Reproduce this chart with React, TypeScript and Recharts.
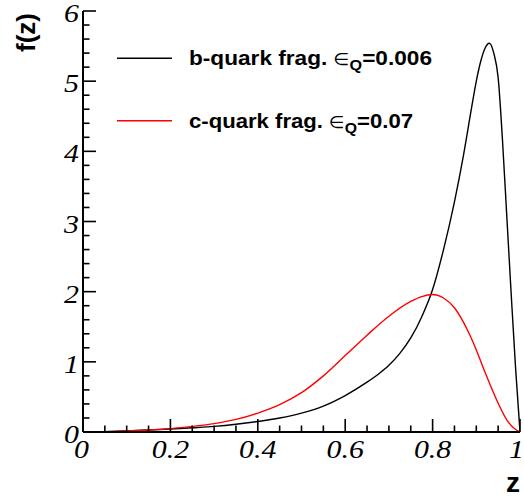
import React from 'react';
import { LineChart, Line, XAxis, YAxis, Legend } from 'recharts';

// b-quark fragmentation (black), epsilon_Q = 0.006
const bZ = [0, 0.05, 0.1, 0.15, 0.2, 0.25, 0.3, 0.35, 0.4, 0.45, 0.5, 0.55, 0.6, 0.65, 0.675, 0.7, 0.725, 0.75, 0.775, 0.8, 0.825, 0.85, 0.87, 0.89, 0.9, 0.91, 0.92, 0.93, 0.94, 0.95, 0.96, 0.97, 0.98, 0.99, 1.0];
const bF = [0, 0.005, 0.015, 0.028, 0.042, 0.06, 0.08, 0.11, 0.15, 0.2, 0.27, 0.37, 0.52, 0.71, 0.82, 0.95, 1.12, 1.34, 1.64, 2.03, 2.6, 3.28, 3.92, 4.65, 5.0, 5.28, 5.47, 5.54, 5.4, 5.05, 4.15, 3.05, 1.95, 0.9, 0];

// c-quark fragmentation (red), epsilon_Q = 0.07
const rZ = [0, 0.05, 0.1, 0.15, 0.2, 0.25, 0.3, 0.35, 0.4, 0.45, 0.5, 0.55, 0.6, 0.65, 0.7, 0.75, 0.775, 0.8, 0.825, 0.85, 0.88, 0.9, 0.92, 0.95, 0.97, 0.985, 1.0];
const rF = [0, 0.004, 0.014, 0.028, 0.048, 0.08, 0.12, 0.18, 0.27, 0.39, 0.56, 0.8, 1.09, 1.38, 1.65, 1.86, 1.93, 1.96, 1.91, 1.77, 1.45, 1.17, 0.85, 0.41, 0.17, 0.06, 0];

const xTicks = [0, 0.05, 0.1, 0.15, 0.2, 0.25, 0.3, 0.35, 0.4, 0.45, 0.5, 0.55, 0.6, 0.65, 0.7, 0.75, 0.8, 0.85, 0.9, 0.95, 1];
const xMajor = [0, 0.2, 0.4, 0.6, 0.8, 1];
const xTickLabels = ['0', '0.2', '0.4', '0.6', '0.8', '1'];

const yTicks = [0, 0.2, 0.4, 0.6, 0.8, 1, 1.2, 1.4, 1.6, 1.8, 2, 2.2, 2.4, 2.6, 2.8, 3, 3.2, 3.4, 3.6, 3.8, 4, 4.2, 4.4, 4.6, 4.8, 5, 5.2, 5.4, 5.6, 5.8, 6];
const yMajor = [0, 1, 2, 3, 4, 5, 6];
const yTickLabels = ['0', '1', '2', '3', '4', '5', '6'];

const seriesNames = ['b-quark frag.', 'c-quark frag.'];
const seriesEps = ['0.006', '0.07'];
const seriesColors = ['#000000', '#ff0000'];

const xTitle = 'z';
const yTitle = 'f(z)';

const bData = bZ.map((z, i) => ({ z, f: bF[i] }));
const rData = rZ.map((z, i) => ({ z, f: rF[i] }));

const majorIndex = (v: number, majors: number[]) => majors.findIndex((m) => Math.abs(m - v) < 1e-6);

const SERIF = "'Liberation Serif', 'Times New Roman', serif";
const SANS = "'Liberation Sans', Arial, Helvetica, sans-serif";
const TICK_W = 1.6;
const LABEL_SIZE = 26;
const LABEL_SX = 1.15;

const TickText = ({ x, y, anchor, children }: any) => (
  <text
    x={0}
    y={0}
    transform={`translate(${x} ${y}) scale(${LABEL_SX} 1)`}
    textAnchor={anchor}
    fontFamily={SERIF}
    fontStyle="italic"
    fontSize={LABEL_SIZE}
    fill="#000"
  >
    {children}
  </text>
);

const BottomTick = (props: any) => {
  const { x, y, payload } = props;
  const mi = majorIndex(payload.value, xMajor);
  const len = mi >= 0 ? 13 : 6.5;
  const last = mi === xMajor.length - 1;
  return (
    <g>
      <line x1={x} y1={y} x2={x} y2={y - len} stroke="#000" strokeWidth={TICK_W} />
      {mi >= 0 && (
        <TickText x={last ? x + 4 : mi === 0 ? x - 1.5 : x} y={y + 26} anchor={last ? 'end' : 'middle'}>
          {xTickLabels[mi]}
        </TickText>
      )}
    </g>
  );
};

const TopTick = (props: any) => {
  const { x, y, payload } = props;
  const mi = majorIndex(payload.value, xMajor);
  const len = mi >= 0 ? 13 : 6.5;
  return <line x1={x} y1={y} x2={x} y2={y + len} stroke="#000" strokeWidth={TICK_W} />;
};

const LeftTick = (props: any) => {
  const { x, y, payload } = props;
  const mi = majorIndex(payload.value, yMajor);
  const len = mi >= 0 ? 13 : 6.5;
  return (
    <g>
      <line x1={x} y1={y} x2={x + len} y2={y} stroke="#000" strokeWidth={TICK_W} />
      {mi >= 0 && (
        <TickText x={x - 4} y={y + 11} anchor="end">
          {yTickLabels[mi]}
        </TickText>
      )}
    </g>
  );
};

const RightTick = (props: any) => {
  const { x, y, payload } = props;
  const mi = majorIndex(payload.value, yMajor);
  const len = mi >= 0 ? 13 : 6.5;
  return <line x1={x} y1={y} x2={x - len} y2={y} stroke="#000" strokeWidth={TICK_W} />;
};

const XTitle = () => (
  <text x={520} y={492} textAnchor="end" fontFamily={SANS} fontWeight="bold" fontSize={28} fill="#000">
    {xTitle}
  </text>
);

const YTitle = () => (
  <text x={35} y={13} textAnchor="end" transform="rotate(-90 35 13)" fontFamily={SANS} fontWeight="bold" fontSize={26} fill="#000">
    {yTitle}
  </text>
);

const LegendContent = () => (
  <svg width={524} height={140} style={{ display: 'block', overflow: 'visible' }}>
    {seriesNames.map((name, i) => {
      const y = 58.3 + i * 62.4;
      return (
        <g key={name}>
          <line x1={117} x2={172} y1={y} y2={y} stroke={seriesColors[i]} strokeWidth={1.4} />
          <text
            x={189}
            y={y + 6.8}
            fontFamily={SANS}
            fontWeight="bold"
            fontSize={21}
            fill="#000"
            textLength={i === 0 ? 243 : 224}
            lengthAdjust="spacingAndGlyphs"
          >
            {name + ' '}
            <tspan fontWeight="normal" fontSize={17} fontFamily="'DejaVu Sans', sans-serif">∈</tspan>
            <tspan fontSize={15} dy={5}>Q</tspan>
            <tspan dy={-5}>{'=' + seriesEps[i]}</tspan>
          </text>
        </g>
      );
    })}
  </svg>
);

export default function App() {
  return (
    <div style={{ position: 'absolute', left: 0, top: 0, width: 524, height: 498, background: '#fff' }}>
      <LineChart width={524} height={498} margin={{ top: 11, right: 4, bottom: 0, left: 0 }}>
        <XAxis
          xAxisId="bottom"
          dataKey="z"
          type="number"
          domain={[0, 1]}
          allowDataOverflow
          ticks={xTicks}
          interval={0}
          height={66}
          tickSize={0}
          tickMargin={0}
          tickLine={false}
          axisLine={{ stroke: '#000', strokeWidth: 2 }}
          tick={BottomTick}
          label={XTitle}
        />
        <XAxis
          xAxisId="top"
          orientation="top"
          dataKey="z"
          type="number"
          domain={[0, 1]}
          allowDataOverflow
          ticks={xTicks}
          interval={0}
          height={0}
          tickSize={0}
          tickMargin={0}
          tickLine={false}
          axisLine={{ stroke: '#000', strokeWidth: 2 }}
          tick={TopTick}
        />
        <YAxis
          yAxisId="left"
          type="number"
          domain={[0, 6]}
          allowDataOverflow
          ticks={yTicks}
          interval={0}
          width={83}
          tickSize={0}
          tickMargin={0}
          tickLine={false}
          axisLine={{ stroke: '#000', strokeWidth: 2 }}
          tick={LeftTick}
          label={YTitle}
        />
        <YAxis
          yAxisId="right"
          orientation="right"
          type="number"
          domain={[0, 6]}
          allowDataOverflow
          ticks={yTicks}
          interval={0}
          width={0}
          tickSize={0}
          tickMargin={0}
          tickLine={false}
          axisLine={{ stroke: '#000', strokeWidth: 2 }}
          tick={RightTick}
        />
        <Line
          xAxisId="bottom"
          yAxisId="left"
          data={bData}
          dataKey="f"
          name={seriesNames[0]}
          type="monotone"
          stroke={seriesColors[0]}
          strokeWidth={1.4}
          dot={false}
          activeDot={false}
          isAnimationActive={false}
        />
        <Line
          xAxisId="bottom"
          yAxisId="left"
          data={rData}
          dataKey="f"
          name={seriesNames[1]}
          type="monotone"
          stroke={seriesColors[1]}
          strokeWidth={1.4}
          dot={false}
          activeDot={false}
          isAnimationActive={false}
        />
        <Legend
          layout="horizontal"
          verticalAlign="middle"
          align="center"
          wrapperStyle={{ position: 'absolute', left: 0, top: 0, width: 524, height: 140, pointerEvents: 'none' }}
          content={LegendContent}
        />
      </LineChart>
    </div>
  );
}
